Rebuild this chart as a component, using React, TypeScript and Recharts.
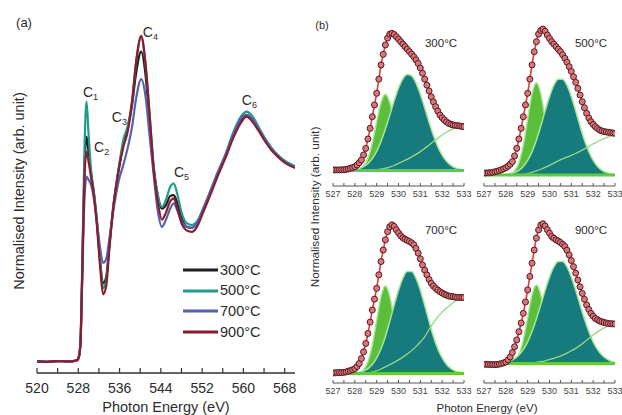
import React from 'react';
import { ComposedChart, Line, Area, XAxis, YAxis, ReferenceDot, ReferenceLine, Legend } from 'recharts';

const FONT = '"Liberation Sans", Arial, Helvetica, sans-serif';
const INK = '#2b2b2b';

// ---------------- Panel (a): O K-edge XAS ----------------
const energyA = [520, 522, 524, 526, 527, 527.8, 528.2, 528.5, 528.8, 529.2, 529.6, 530.0, 530.5, 531.0, 531.6, 532.2, 532.8, 533.4, 534.0, 534.8, 535.8, 536.8, 537.6, 538.4, 539.2, 540.2, 541.0, 541.8, 542.6, 543.4, 544.2, 545.0, 545.8, 546.5, 547.2, 548.0, 549.0, 550.0, 551.0, 552.2, 553.5, 555.0, 556.5, 558.0, 559.5, 560.6, 561.8, 563.0, 564.2, 565.4, 566.6, 568.0, 570.0];
const int300 = [3.2, 3.1, 3.3, 3.2, 3.3, 3.6, 5, 11, 30, 57, 65.5, 61, 55, 50, 42, 31.5, 24.8, 26.5, 35, 46, 56, 64, 68, 74, 83, 89, 83, 70, 57, 49, 45.5, 46.5, 49, 49.3, 47, 43, 40.5, 40.2, 41.5, 45, 49.5, 55, 60, 65.5, 70, 71.5, 70, 67.3, 64.5, 62, 60.3, 58.5, 57];
const int500 = [3.2, 3.1, 3.3, 3.2, 3.3, 3.6, 5, 11.5, 32, 62, 75.2, 66, 56, 50.5, 42.5, 32, 23.5, 25.5, 35, 46.5, 56.5, 65, 68.5, 75, 86, 93, 86, 72, 57.5, 49.5, 46, 48, 51.5, 52.5, 49.5, 44.5, 41.5, 41, 42, 45.5, 50, 55.5, 60.5, 66.5, 71, 72.4, 71, 68, 65, 62.5, 60.5, 58.8, 57.3];
const int700 = [3.2, 3.1, 3.3, 3.2, 3.3, 3.6, 5, 11, 28, 48, 54.4, 53.5, 52, 48.5, 42, 35, 30.5, 31.5, 37, 45, 53, 58, 62.5, 68, 76, 81.4, 77, 66, 55, 45, 40.5, 42.5, 45.5, 47, 45, 42, 40.5, 40.2, 41.5, 45.5, 50, 55.5, 60.3, 66, 70.5, 71.5, 70.3, 67.5, 64.7, 62, 60.2, 58.5, 57];
const int900 = [3.2, 3.1, 3.3, 3.2, 3.3, 3.6, 5, 11, 30, 54, 61.3, 58.5, 54, 49.5, 41, 30, 21.8, 24, 34, 46, 56, 63, 67, 75, 86, 93.4, 86, 72, 56.5, 47.5, 42.5, 44.5, 47.5, 48.4, 45.5, 41.5, 39.5, 39.1, 40.5, 44.5, 49, 54.5, 59.5, 65, 69.3, 71, 69.5, 67, 64.2, 61.8, 60, 58.3, 56.8];
const tempLabels = ['300°C', '500°C', '700°C', '900°C'];
const tempKeys = ['t300', 't500', 't700', 't900'];
const tempColors = ['#1d1d1d', '#1f9a8b', '#5661b2', '#8b1c2e'];
const ticksA = [520, 524, 528, 532, 536, 540, 544, 548, 552, 556, 560, 564, 568];
const peakNames = ['1', '2', '3', '4', '5', '6'];
const peakAnchorE = [528.9, 531.05, 534.5, 540.5, 546.55, 559.7];
const peakAnchorI = [76.5, 61.2, 69.5, 93.1, 54.3, 74.2];

const dataA = energyA.map((e, i) => ({ e, t300: int300[i], t500: int500[i], t700: int700[i], t900: int900[i] }));

// ---------------- Panel (b): O 1s fits ----------------
const eFine = [527.0, 527.1, 527.2, 527.3, 527.4, 527.5, 527.6, 527.7, 527.8, 527.9, 528.0, 528.1, 528.2, 528.3, 528.4, 528.5, 528.6, 528.7, 528.8, 528.9, 529.0, 529.1, 529.2, 529.3, 529.4, 529.5, 529.6, 529.7, 529.8, 529.9, 530.0, 530.1, 530.2, 530.3, 530.4, 530.5, 530.6, 530.7, 530.8, 530.9, 531.0, 531.1, 531.2, 531.3, 531.4, 531.5, 531.6, 531.7, 531.8, 531.9, 532.0, 532.1, 532.2, 532.3, 532.4, 532.5, 532.6, 532.7, 532.8, 532.9, 533.0];
const eCoarse = [527.0, 527.2, 527.4, 527.6, 527.8, 528.0, 528.2, 528.4, 528.6, 528.8, 529.0, 529.2, 529.4, 529.6, 529.8, 530.0, 530.2, 530.4, 530.6, 530.8, 531.0, 531.2, 531.4, 531.6, 531.8, 532.0, 532.2, 532.4, 532.6, 532.8, 533.0];
const ticksB = [527, 527.5, 528, 528.5, 529, 529.5, 530, 530.5, 531, 531.5, 532, 532.5, 533];

const meas300 = [9.4, 9.4, 9.4, 9.4, 9.5, 9.5, 9.7, 10.0, 10.4, 10.8, 11.3, 12.3, 13.6, 15.2, 18.2, 22, 27.5, 33.7, 40.5, 47.4, 54.2, 62.5, 70.8, 77, 82.5, 86.5, 88.8, 89.3, 88.6, 87.3, 85.9, 84.4, 83, 81.5, 80, 78.6, 77.1, 75.6, 73.8, 71.7, 69, 65.9, 62.5, 59, 55.6, 52.2, 49.2, 46.4, 43.8, 41.5, 39.9, 38.6, 37.5, 36.6, 36.1, 35.7, 35.5, 35.3, 35.1, 34.9, 34.7];
const green300 = [9, 9, 9, 9, 9, 9.2, 9.8, 11.6, 16.3, 25.1, 37.4, 48.8, 53.6, 48.8, 37.4, 25.1, 16.3, 11.6, 9.8, 9.2, 9, 9, 9, 9, 9, 9, 9, 9, 9, 9, 9];
const teal300 = [9, 9, 9, 9.1, 9.3, 9.6, 10.2, 11.3, 13.1, 16.0, 20.3, 26.1, 33.3, 41.4, 49.8, 57.2, 62.7, 65.2, 64.4, 60.3, 53.7, 45.7, 37.3, 29.5, 23.0, 18.0, 14.4, 12.1, 10.6, 9.8, 9.4];
const bg300 = [9, 9, 9, 9, 9, 9, 9, 9, 9.1, 9.2, 9.5, 9.9, 10.4, 11.1, 12, 13.2, 14.4, 15.6, 17, 18.5, 20.1, 22, 24, 26, 28, 29.8, 31.4, 32.8, 33.8, 34.4, 34.7];

const meas500 = [7.6, 7.6, 7.7, 7.8, 8.0, 8.3, 8.6, 9.0, 9.5, 10.1, 10.7, 11.6, 12.7, 14.2, 17.6, 22, 27.5, 33.7, 40.5, 47.4, 54.2, 62.5, 70.8, 78.5, 84.4, 88.8, 91, 91.8, 90.5, 88.3, 86.3, 84.4, 83, 81.5, 80, 78.6, 76.8, 74.7, 72.4, 69.8, 67, 63.9, 60.6, 57.1, 53.2, 49.3, 45.8, 42.5, 39.8, 37.6, 36, 34.7, 33.6, 32.7, 32.2, 31.8, 31.6, 31.4, 31.2, 31.0, 30.8];
const green500 = [6.4, 6.4, 6.4, 6.4, 6.4, 6.5, 7, 8.8, 13.7, 23.9, 39.2, 54, 60.4, 54, 39.2, 23.9, 13.7, 8.8, 7, 6.5, 6.4, 6.4, 6.4, 6.4, 6.4, 6.4, 6.4, 6.4, 6.4, 6.4, 6.4];
const teal500 = [6.4, 6.4, 6.4, 6.5, 6.5, 6.7, 7.1, 7.8, 9.1, 11.4, 15, 20.1, 26.8, 35.0, 43.9, 52.2, 58.9, 62.5, 62.5, 58.9, 52.2, 43.9, 35.0, 26.8, 20.1, 15, 11.4, 9.1, 7.8, 7.1, 6.7];
const bg500 = [6.4, 6.4, 6.4, 6.4, 6.4, 6.4, 6.4, 6.4, 6.5, 6.8, 7.3, 8, 8.8, 9.8, 10.9, 12.1, 13.4, 14.7, 15.9, 16.9, 17.9, 19, 20.3, 21.7, 23.2, 24.6, 26, 27.2, 28.3, 29.2, 29.8];

const meas700 = [5.7, 5.8, 5.9, 6.0, 6.0, 6.1, 6.3, 6.7, 7.1, 7.6, 8.2, 9.4, 11.1, 14, 17.8, 22.6, 28.3, 34.8, 41.7, 47.9, 54.1, 61.8, 69.4, 76, 81.8, 86.5, 89.3, 90.4, 89.5, 87.6, 85.8, 84.1, 83, 82.2, 81.5, 80.9, 80.1, 79, 76.9, 74.2, 71, 67.5, 64.5, 61.8, 59.2, 57, 55.4, 54.1, 53.1, 52.2, 51.4, 50.7, 50.2, 49.7, 49.5, 49.3, 49.1, 48.9, 48.9, 48.9, 48.9];
const green700 = [5.4, 5.4, 5.4, 5.4, 5.4, 5.5, 6, 7.6, 12.2, 21.7, 35.8, 49.5, 55.4, 49.5, 35.8, 21.7, 12.2, 7.6, 6, 5.5, 5.4, 5.4, 5.4, 5.4, 5.4, 5.4, 5.4, 5.4, 5.4, 5.4, 5.4];
const teal700 = [5.4, 5.4, 5.4, 5.5, 5.5, 5.7, 6.1, 6.8, 8.2, 10.6, 14.3, 19.6, 26.6, 35.2, 44.4, 53.0, 59.9, 63.7, 63.7, 59.9, 53.0, 44.4, 35.2, 26.6, 19.6, 14.3, 10.6, 8.2, 6.8, 6.1, 5.7];
const bg700 = [5.4, 5.4, 5.4, 5.4, 5.4, 5.4, 5.4, 5.4, 5.7, 6.2, 7, 8, 9.2, 10.5, 11.8, 13.2, 14.8, 16.5, 18.5, 20.8, 23.4, 26.4, 30.5, 34.5, 37.8, 40.5, 42.8, 44.9, 46.8, 48.1, 48.9];

const meas900 = [10.7, 10.7, 10.6, 10.6, 10.5, 10.5, 10.6, 10.8, 11.1, 11.5, 12, 13.2, 14.9, 17.4, 20.7, 24.6, 29.3, 34.3, 39.8, 46.3, 53.2, 60.9, 68.5, 76, 82.8, 87.5, 90.2, 91, 89.7, 87.6, 85.6, 83.7, 82.7, 81.8, 81.1, 80.3, 79.3, 78, 75.9, 73.2, 70, 66.5, 62.8, 58.9, 55, 51.2, 47.8, 44.6, 42, 39.8, 38.2, 36.9, 36.1, 35.4, 35, 34.6, 34.3, 34, 33.9, 33.8, 33.7];
const green900 = [11.1, 11.1, 11.1, 11.1, 11.1, 11.1, 11.5, 12.7, 16.4, 24.6, 37.5, 50.4, 56, 50.4, 37.5, 24.6, 16.4, 12.7, 11.5, 11.1, 11.1, 11.1, 11.1, 11.1, 11.1, 11.1, 11.1, 11.1, 11.1, 11.1, 11.1];
const teal900 = [11.1, 11.1, 11.2, 11.3, 11.5, 11.9, 12.6, 13.9, 16, 19.1, 23.5, 29.4, 36.6, 44.7, 53, 60.5, 66.3, 69.4, 69.4, 66.3, 60.5, 53, 44.7, 36.6, 29.4, 23.5, 19.1, 16, 13.9, 12.6, 11.9];
const bg900 = [11.1, 11.1, 11.1, 11.1, 11.1, 11.1, 11.1, 11.1, 11.1, 11.2, 11.3, 11.5, 11.8, 12.2, 12.7, 13.4, 14.1, 14.9, 15.9, 17.1, 18.4, 19.8, 21.5, 23.4, 25.4, 27.4, 29.2, 30.8, 32.1, 33.1, 33.7];

const fitBase = [9, 6.4, 5.4, 11.1];
const fitMeas = [meas300, meas500, meas700, meas900];
const fitGreen = [green300, green500, green700, green900];
const fitTeal = [teal300, teal500, teal700, teal900];
const fitBg = [bg300, bg500, bg700, bg900];

// layout of the four small frames (plot-area boxes)
const boxes = [
  { left: 333, top: 15, w: 131, h: 171 },
  { left: 484, top: 15, w: 131, h: 171 },
  { left: 333, top: 208, w: 131, h: 175 },
  { left: 484, top: 208, w: 131, h: 175 },
];

const PeakLabel = (props: any) => {
  const vb = props.viewBox || {};
  return (
    <text x={vb.x} y={vb.y} fontFamily={FONT} fontSize={14} fill={INK}>
      <tspan>C</tspan>
      <tspan dy={3} fontSize={9}>{props.n}</tspan>
    </text>
  );
};

const LegendA = (props: any) => (
  <div style={{ fontFamily: FONT, fontSize: 14.5, color: INK }}>
    {(props.payload || []).map((it: any) => (
      <div key={it.value} style={{ display: 'flex', alignItems: 'center', height: 20.6 }}>
        <svg width={35} height={6} style={{ display: 'block' }}>
          <line x1={0} y1={3} x2={35} y2={3} stroke={it.color} strokeWidth={3.2} />
        </svg>
        <span style={{ marginLeft: 2, lineHeight: '15px' }}>{it.value}</span>
      </div>
    ))}
  </div>
);

const Txt = ({ x, y, size, rotate, children }: any) => (
  <div
    style={{
      position: 'absolute', left: x, top: y, fontFamily: FONT, fontSize: size, color: INK,
      whiteSpace: 'nowrap', transform: `translate(-50%, -50%)${rotate ? ' rotate(-90deg)' : ''}`, lineHeight: 1,
    }}
  >
    {children}
  </div>
);

const FRAME = '#333';

function SpectraPanel() {
  return (
    <div style={{ position: 'absolute', left: 0, top: 0 }}>
      <ComposedChart width={310} height={415} data={dataA} margin={{ top: 12, left: 37, right: 15, bottom: 0 }}>
        <XAxis dataKey="e" type="number" domain={[520, 570]} allowDataOverflow ticks={ticksA} interval={0}
          tickFormatter={(v: number) => (v % 8 === 0 ? String(v) : '')}
          height={42} tickSize={-5} tickMargin={15}
          tick={{ fontSize: 14, fill: INK, fontFamily: FONT }}
          axisLine={{ stroke: FRAME, strokeWidth: 1.3 }} tickLine={{ stroke: FRAME, strokeWidth: 1.2 }} />
        <XAxis xAxisId="top" orientation="top" type="number" domain={[520, 570]} allowDataOverflow ticks={ticksA} interval={0}
          height={0} tickSize={-5} tick={false}
          axisLine={{ stroke: FRAME, strokeWidth: 1.3 }} tickLine={{ stroke: FRAME, strokeWidth: 1.2 }} />
        <YAxis type="number" domain={[0, 100]} allowDataOverflow width={0} tick={false} tickLine={false}
          axisLine={{ stroke: FRAME, strokeWidth: 1.3 }} />
        <YAxis yAxisId="r" orientation="right" type="number" domain={[0, 100]} allowDataOverflow width={0} tick={false} tickLine={false}
          axisLine={{ stroke: FRAME, strokeWidth: 1.3 }} />
        {tempKeys.map((k, i) => (
          <Line key={k} dataKey={k} name={tempLabels[i]} type="monotone" stroke={tempColors[i]} strokeWidth={2.2}
            dot={false} activeDot={false} isAnimationActive={false} />
        ))}
        {peakNames.map((n, i) => (
          <ReferenceDot key={n} x={peakAnchorE[i]} y={peakAnchorI[i]} r={0} fill="none" stroke="none"
            label={<PeakLabel n={n} />} />
        ))}
        <Legend layout="vertical" align="center" verticalAlign="middle" content={<LegendA />}
          wrapperStyle={{ left: 183, top: 260, width: 100 }} />
      </ComposedChart>
    </div>
  );
}

function FitPanel({ idx }: { idx: number }) {
  const b = boxes[idx];
  const padX = 13;
  const padY = 6;
  const axisH = 24;
  const fine = eFine.map((e, i) => ({ e, m: fitMeas[idx][i] }));
  const coarse = eCoarse.map((e, i) => ({ e, g: fitGreen[idx][i], t: fitTeal[idx][i], bg: fitBg[idx][i] }));
  const base = fitBase[idx];
  return (
    <div style={{ position: 'absolute', left: b.left - padX, top: b.top - padY }}>
      <ComposedChart width={b.w + 2 * padX} height={b.h + padY + axisH} margin={{ top: padY, left: padX, right: padX, bottom: 0 }}>
        <XAxis dataKey="e" type="number" domain={[527, 533]} allowDataOverflow ticks={ticksB} interval={0}
          tickFormatter={(v: number) => (Number.isInteger(v) ? String(v) : '')}
          height={axisH} tickSize={-3} tickMargin={8}
          tick={{ fontSize: 9, fill: '#444', fontFamily: FONT }}
          axisLine={{ stroke: '#555', strokeWidth: 1 }} tickLine={{ stroke: '#555', strokeWidth: 1 }} />
        <XAxis xAxisId="top" orientation="top" type="number" domain={[527, 533]} allowDataOverflow ticks={ticksB} interval={0}
          height={0} tickSize={-3} tick={false}
          axisLine={{ stroke: '#555', strokeWidth: 1 }} tickLine={{ stroke: '#555', strokeWidth: 1 }} />
        <YAxis type="number" domain={[0, 100]} allowDataOverflow width={0} tick={false} tickLine={false}
          axisLine={{ stroke: '#555', strokeWidth: 1 }} />
        <YAxis yAxisId="r" orientation="right" type="number" domain={[0, 100]} allowDataOverflow width={0} tick={false} tickLine={false}
          axisLine={{ stroke: '#555', strokeWidth: 1 }} />
        <Area data={coarse} dataKey="g" type="monotone" baseValue={base} fill="#5cbf3c" fillOpacity={1}
          stroke="#a6e596" strokeWidth={1.5} isAnimationActive={false} dot={false} activeDot={false} />
        <Area data={coarse} dataKey="t" type="monotone" baseValue={base} fill="#177b7e" fillOpacity={1}
          stroke="#a6e596" strokeWidth={1.5} isAnimationActive={false} dot={false} activeDot={false} />
        <Line data={coarse} dataKey="bg" type="monotone" stroke="#92d882" strokeWidth={1.3} dot={false}
          activeDot={false} isAnimationActive={false} />
        <ReferenceLine y={base} stroke="#5fcb3f" strokeWidth={3} />
        <Line data={fine} dataKey="m" type="monotone" stroke="#e5373d" strokeWidth={1.6}
          dot={{ r: 3, fill: '#d9767b', stroke: '#571a20', strokeWidth: 1 }} activeDot={false} isAnimationActive={false} />
      </ComposedChart>
    </div>
  );
}

const panelLabelPos = [
  { x: 441, y: 44 },
  { x: 591, y: 44 },
  { x: 441, y: 231 },
  { x: 591, y: 231 },
];

export default function App() {
  return (
    <div style={{ position: 'absolute', left: 0, top: 0, width: 622, height: 415, background: '#fff', overflow: 'hidden' }}>
      <SpectraPanel />
      {boxes.map((_, i) => <FitPanel key={i} idx={i} />)}
      {panelLabelPos.map((p, i) => (
        <Txt key={i} x={p.x} y={p.y} size={11.5}>{tempLabels[i]}</Txt>
      ))}
      <Txt x={24} y={22} size={13}>(a)</Txt>
      <Txt x={322} y={25} size={11}>(b)</Txt>
      <Txt x={166} y={407} size={14.5}>Photon Energy (eV)</Txt>
      <Txt x={19} y={191} size={14.5} rotate>Normalised Intensity (arb. unit)</Txt>
      <Txt x={487} y={409} size={11.5}>Photon Energy (eV)</Txt>
      <Txt x={316} y={207} size={11.8} rotate>Normalised Intensity (arb. unit)</Txt>
    </div>
  );
}
